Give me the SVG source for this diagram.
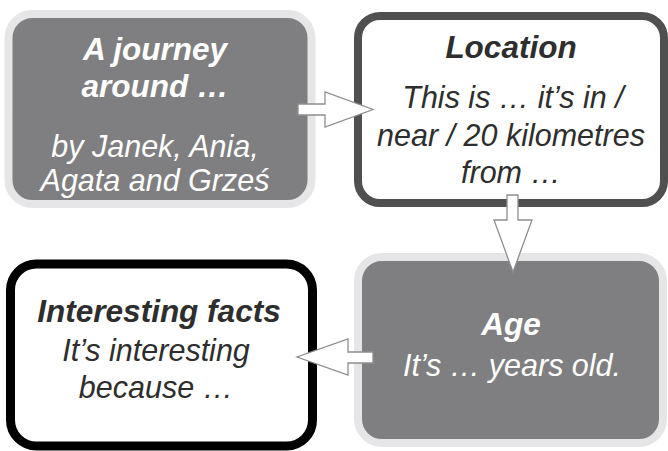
<svg xmlns="http://www.w3.org/2000/svg" width="668" height="451" viewBox="0 0 668 451">
<style>
.t{font-family:"Liberation Sans",Arial,Helvetica,sans-serif;font-size:30.5px;font-style:italic;text-anchor:middle}
.b{font-weight:bold;font-size:31.5px}
.w{fill:#ffffff}
.d{fill:#2e2e2e}
.grey{fill:#7f7f81;stroke:#e6e6e8;stroke-width:8}
.arr{fill:#ffffff;stroke:#8e8e8e;stroke-width:1.3;stroke-linejoin:miter}
</style>
<rect width="668" height="451" fill="#ffffff"/>
<g id="node-journey">
<rect class="grey" x="8.5" y="14" width="303" height="190" rx="24"/>
<text class="t b w" x="155" y="60">A journey</text>
<text class="t b w" x="155" y="97">around …</text>
<text class="t w" x="155" y="157">by Janek, Ania,</text>
<text class="t w" x="155" y="191">Agata and Grześ</text>
</g>
<g id="node-location">
<rect x="358" y="16" width="306" height="187" rx="22" fill="#ffffff" stroke="#505050" stroke-width="8"/>
<text class="t b d" x="511" y="58">Location</text>
<text class="t d" x="513" y="108">This is … it’s in /</text>
<text class="t d" x="511" y="146">near / 20 kilometres</text>
<text class="t d" x="511" y="183">from …</text>
</g>
<g id="node-age">
<rect class="grey" x="358" y="257" width="305" height="186" rx="24"/>
<text class="t b w" x="511" y="335">Age</text>
<text class="t w" x="512" y="376">It’s … years old.</text>
</g>
<g id="node-facts">
<rect x="10.5" y="264" width="302" height="182" rx="26" fill="#ffffff" stroke="#000000" stroke-width="9"/>
<text class="t b d" x="159" y="322">Interesting facts</text>
<text class="t d" x="156" y="361">It’s interesting</text>
<text class="t d" x="156" y="398">because …</text>
</g>
<g id="connectors">
<polygon class="arr" points="298,104 325,104 325,92 373,109.5 325,127 325,115 298,115"/>
<polygon class="arr" points="507,195 518,195 518,220 532,220 513,272 494,220 507,220"/>
<polygon class="arr" points="373,352 348,352 348,339 297,357 348,375 348,363 373,363"/>
</g>
</svg>
